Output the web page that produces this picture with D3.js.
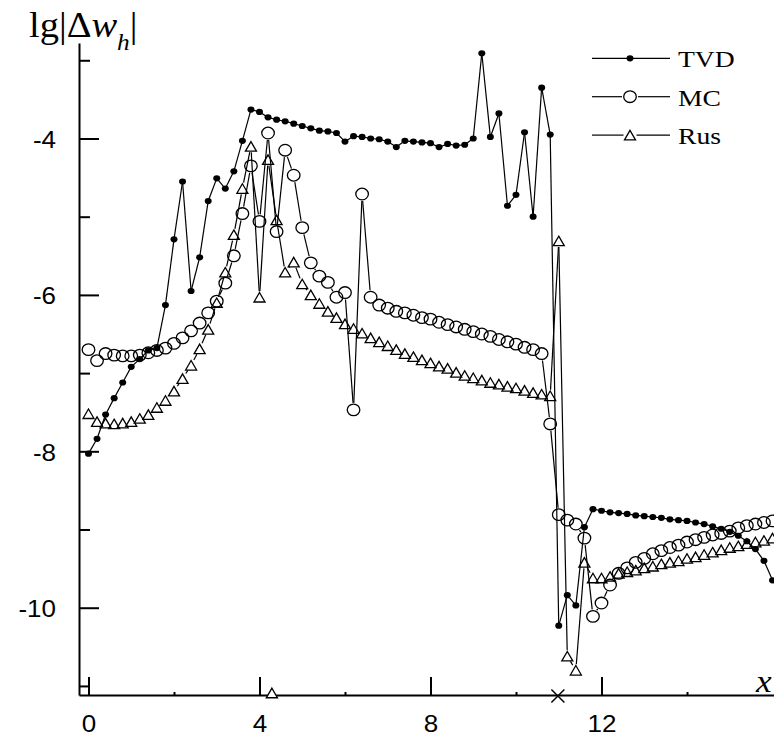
<!DOCTYPE html>
<html>
<head>
<meta charset="utf-8">
<script src="https://cdn.jsdelivr.net/npm/d3@7"></script>
<style>
  body { margin: 0; background: #fff; }
  svg { display: block; }
</style>
</head>
<body>
<div id="chart"></div>
<script>
// grid nodes, step 0.2
const xGrid = [0, 0.2, 0.4, 0.6, 0.8, 1, 1.2, 1.4, 1.6, 1.8,
    2, 2.2, 2.4, 2.6, 2.8, 3, 3.2, 3.4, 3.6, 3.8,
    4, 4.2, 4.4, 4.6, 4.8, 5, 5.2, 5.4, 5.6, 5.8,
    6, 6.2, 6.4, 6.6, 6.8, 7, 7.2, 7.4, 7.6, 7.8,
    8, 8.2, 8.4, 8.6, 8.8, 9, 9.2, 9.4, 9.6, 9.8,
    10, 10.2, 10.4, 10.6, 10.8, 11, 11.2, 11.4, 11.6, 11.8,
    12, 12.2, 12.4, 12.6, 12.8, 13, 13.2, 13.4, 13.6, 13.8,
    14, 14.2, 14.4, 14.6, 14.8, 15, 15.2, 15.4, 15.6, 15.8, 16];

const tvd = [-8.03, -7.84, -7.53, -7.32, -7.12, -6.92, -6.82, -6.71, -6.68, -6.13,
    -5.29, -4.55, -5.95, -5.52, -4.80, -4.51, -4.64, -4.42, -4.03, -3.63,
    -3.66, -3.73, -3.76, -3.78, -3.81, -3.84, -3.87, -3.90, -3.91, -3.93,
    -4.04, -3.97, -3.98, -4.00, -4.01, -4.04, -4.11, -4.03, -4.04, -4.05,
    -4.06, -4.11, -4.07, -4.09, -4.08, -4.00, -2.91, -3.98, -3.68, -4.86,
    -4.72, -3.92, -5.00, -3.35, -3.95, -10.23, -9.84, -9.97, -8.97, -8.74,
    -8.76, -8.78, -8.79, -8.80, -8.82, -8.83, -8.84, -8.85, -8.87, -8.88,
    -8.89, -8.91, -8.93, -8.96, -8.99, -9.03, -9.08, -9.15, -9.25, -9.40, -9.65];

const mc = [-6.70, -6.84, -6.75, -6.77, -6.78, -6.78, -6.77, -6.74, -6.71, -6.68,
    -6.62, -6.55, -6.46, -6.36, -6.23, -6.08, -5.85, -5.50, -4.96, -4.35,
    -5.06, -3.93, -5.19, -4.15, -4.47, -5.14, -5.59, -5.76, -5.84, -6.03,
    -5.97, -7.47, -4.71, -6.03, -6.13, -6.17, -6.21, -6.23, -6.26, -6.29,
    -6.31, -6.35, -6.38, -6.41, -6.44, -6.47, -6.50, -6.53, -6.57, -6.60,
    -6.63, -6.67, -6.70, -6.75, -7.65, -8.81, -8.88, -8.93, -9.11, -10.11,
    -9.94, -9.71, -9.56, -9.49, -9.42, -9.37, -9.31, -9.27, -9.23, -9.20,
    -9.16, -9.13, -9.10, -9.07, -9.05, -9.02, -8.98, -8.95, -8.93, -8.91, -8.89];

const rus = [-7.52, -7.62, -7.64, -7.65, -7.64, -7.62, -7.58, -7.53, -7.44, -7.35,
    -7.23, -7.07, -6.90, -6.69, -6.44, -6.10, -5.71, -5.23, -4.64, -4.10,
    -6.03, -4.27, -5.04, -5.71, -5.58, -5.86, -6.00, -6.11, -6.21, -6.29,
    -6.37, -6.43, -6.49, -6.55, -6.60, -6.65, -6.70, -6.75, -6.79, -6.83,
    -6.87, -6.91, -6.94, -6.99, -7.03, -7.06, -7.09, -7.12, -7.14, -7.17,
    -7.19, -7.22, -7.25, -7.27, -7.29, -5.31, -10.62, -10.80, -9.42, -9.62,
    -9.62, -9.60, -9.56, -9.54, -9.52, -9.49, -9.47, -9.44, -9.42, -9.40,
    -9.37, -9.35, -9.32, -9.29, -9.26, -9.23, -9.21, -9.18, -9.16, -9.14, -9.11];

const xMajor = [0, 4, 8, 12];
const xMinor = [2, 6, 10, 14];
const yMajor = [-4, -6, -8, -10];
const yMinor = [-3, -5, -7, -9, -11];
const legendNames = ["TVD", "MC", "Rus"];
// markers sitting on the x axis
const axisMarkX = [4.29, 10.98];

const width = 774, height = 742;
const plotLeft = 79, plotRight = 774, plotTop = 43, plotBottom = 695;
const stretch = 1.13; // text in the picture is a bit wider than normal

const x = d3.scaleLinear().domain([-0.222, 16.035]).range([plotLeft, plotRight]);
const y = d3.scaleLinear().domain([-11.116, -2.779]).range([plotBottom, plotTop]);

const svg = d3.select("#chart").append("svg")
    .attr("width", width)
    .attr("height", height);

// axes
const xAxis = svg.append("g")
    .attr("transform", `translate(0,${plotBottom})`)
    .call(d3.axisBottom(x).tickValues(xMajor).tickSize(-18).tickSizeOuter(0)
        .tickFormat(d => String(d)));
xAxis.selectAll("text")
    .attr("y", null).attr("dy", null)
    .attr("transform", `translate(0,37) scale(${stretch},1)`);

const xAxisMinor = svg.append("g")
    .attr("transform", `translate(0,${plotBottom})`)
    .call(d3.axisBottom(x).tickValues(xMinor).tickSize(-3).tickSizeOuter(0)
        .tickFormat(""));
xAxisMinor.select(".domain").remove();

const yAxis = svg.append("g")
    .attr("transform", `translate(${plotLeft},0)`)
    .call(d3.axisLeft(y).tickValues(yMajor).tickSize(-20).tickSizeOuter(0)
        .tickFormat(d => String(d)));
yAxis.selectAll("text")
    .attr("x", null).attr("dy", null)
    .attr("transform", `translate(-23,9) scale(${stretch},1)`);

const yAxisMinor = svg.append("g")
    .attr("transform", `translate(${plotLeft},0)`)
    .call(d3.axisLeft(y).tickValues(yMinor).tickSize(-11).tickSizeOuter(0)
        .tickFormat(""));
yAxisMinor.select(".domain").remove();

svg.selectAll(".domain, .tick line")
    .attr("stroke", "#000")
    .attr("stroke-width", 2);
svg.selectAll(".tick text")
    .attr("fill", "#000")
    .attr("font-family", "'Liberation Sans', Arial, sans-serif")
    .attr("font-size", 23);

// line pieces between markers, with a gap round each marker
function gapSegments(vals, gap) {
    const pts = xGrid.map((xv, i) => [x(xv), y(vals[i])]);
    const segs = [];
    for (let i = 0; i < pts.length - 1; i++) {
        const [x1, y1] = pts[i], [x2, y2] = pts[i + 1];
        const dx = x2 - x1, dy = y2 - y1, d = Math.hypot(dx, dy);
        if (d <= 2 * gap + 1) continue;
        const ux = dx / d, uy = dy / d;
        segs.push([x1 + ux * gap, y1 + uy * gap, x2 - ux * gap, y2 - uy * gap]);
    }
    return segs;
}

const triPath = (w, h) => `M0,${-h / 2}L${w / 2},${h / 2}L${-w / 2},${h / 2}Z`;

function drawSegs(g, segs) {
    g.selectAll("line.seg").data(segs).join("line")
        .attr("class", "seg")
        .attr("x1", d => d[0]).attr("y1", d => d[1])
        .attr("x2", d => d[2]).attr("y2", d => d[3])
        .attr("stroke", "#000")
        .attr("stroke-width", 1.2);
}

// Rus
const gRus = svg.append("g");
drawSegs(gRus, gapSegments(rus, 6));
gRus.selectAll("path.m").data(rus).join("path")
    .attr("class", "m")
    .attr("transform", (d, i) => `translate(${x(xGrid[i])},${y(d)})`)
    .attr("d", triPath(11, 9.5))
    .attr("fill", "none")
    .attr("stroke", "#000")
    .attr("stroke-width", 1.3);

// MC
const gMc = svg.append("g");
drawSegs(gMc, gapSegments(mc, 7));
gMc.selectAll("ellipse").data(mc).join("ellipse")
    .attr("cx", (d, i) => x(xGrid[i]))
    .attr("cy", d => y(d))
    .attr("rx", 6.3).attr("ry", 5.8)
    .attr("fill", "none")
    .attr("stroke", "#000")
    .attr("stroke-width", 1.3);

// TVD
const gTvd = svg.append("g");
drawSegs(gTvd, gapSegments(tvd, 0));
gTvd.selectAll("ellipse").data(tvd).join("ellipse")
    .attr("cx", (d, i) => x(xGrid[i]))
    .attr("cy", d => y(d))
    .attr("rx", 3.5).attr("ry", 3.1)
    .attr("fill", "#000");

// marks on the x axis
svg.append("path")
    .attr("transform", `translate(${x(axisMarkX[0])},${plotBottom - 2})`)
    .attr("d", triPath(11, 9.5))
    .attr("fill", "#fff")
    .attr("stroke", "#000")
    .attr("stroke-width", 1.4);
const cx = x(axisMarkX[1]), cy = plotBottom + 1;
svg.append("path")
    .attr("d", `M${cx - 6.5},${cy - 6.5}L${cx + 6.5},${cy + 6.5}M${cx - 6.5},${cy + 6.5}L${cx + 6.5},${cy - 6.5}`)
    .attr("stroke", "#000")
    .attr("stroke-width", 1.5)
    .attr("fill", "none");

// legend
const legend = svg.append("g");
legendNames.forEach((name, i) => {
    const ly = 58.3 + i * 38.4;
    const g = legend.append("g").attr("transform", `translate(0,${ly})`);
    const gap = i === 0 ? 0 : (i === 1 ? 8 : 6.5);
    g.append("line").attr("x1", 592).attr("x2", 630 - gap).attr("y1", 0).attr("y2", 0)
        .attr("stroke", "#000").attr("stroke-width", 1.2);
    g.append("line").attr("x1", 630 + gap).attr("x2", 670).attr("y1", 0).attr("y2", 0)
        .attr("stroke", "#000").attr("stroke-width", 1.2);
    if (i === 0) {
        g.append("ellipse").attr("cx", 630).attr("rx", 3.5).attr("ry", 3.1).attr("fill", "#000");
    } else if (i === 1) {
        g.append("ellipse").attr("cx", 630).attr("rx", 6.3).attr("ry", 5.8)
            .attr("fill", "none").attr("stroke", "#000").attr("stroke-width", 1.3);
    } else {
        g.append("path").attr("transform", "translate(630,0)").attr("d", triPath(11, 9.5))
            .attr("fill", "none").attr("stroke", "#000").attr("stroke-width", 1.3);
    }
    g.append("text")
        .attr("transform", `translate(678,9) scale(1.15,1)`)
        .attr("font-family", "'Liberation Serif', 'Times New Roman', serif")
        .attr("font-size", 24)
        .text(name);
});

// axis titles
const yTitle = svg.append("text")
    .attr("transform", "translate(29,37) scale(1.1,1)")
    .attr("font-family", "'Liberation Serif', 'Times New Roman', serif")
    .attr("font-size", 35);
yTitle.append("tspan").text("lg|Δ");
yTitle.append("tspan").attr("font-style", "italic").text("w");
yTitle.append("tspan").attr("font-style", "italic").attr("font-size", 23).attr("dy", 13).text("h");
yTitle.append("tspan").attr("dy", -13).text("|");

svg.append("text")
    .attr("transform", "translate(756,692) scale(1.1,1)")
    .attr("font-family", "'Liberation Serif', 'Times New Roman', serif")
    .attr("font-style", "italic")
    .attr("font-size", 32)
    .text("x");
</script>
</body>
</html>
